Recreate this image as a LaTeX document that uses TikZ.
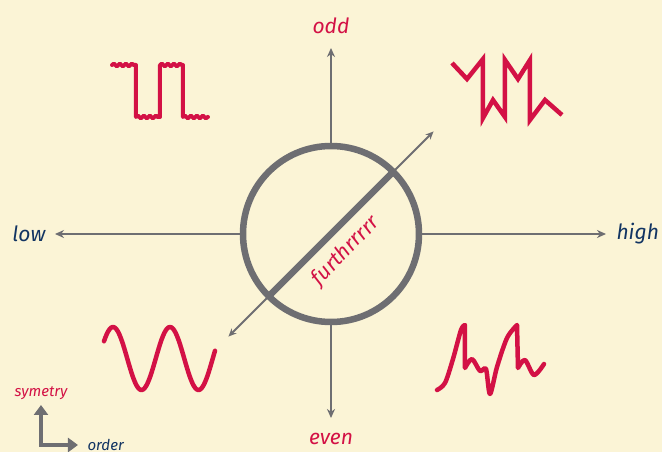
\documentclass[tikz,border=0pt]{standalone}
\usepackage{fontspec}
\setmainfont{Fira Sans}
\usetikzlibrary{positioning, arrows.meta, decorations.pathmorphing}
\definecolor{fgred}{RGB}{211,17,69}
\definecolor{fgblue}{RGB}{18,52,98}
\definecolor{fggray}{RGB}{110,110,114}
\definecolor{fgcream}{RGB}{251,244,214}

\begin{document}
\begin{tikzpicture}[x=1pt, y=1pt, >={Stealth[length=9pt, width=8pt]},
          font=\itshape\fontsize{21}{24}\selectfont,
          ax/.style ={draw=fggray, line width=2.6pt, ->},
          pole/.style={text=fgred},
          side/.style={text=fgblue},
          tiny/.style={font=\itshape\fontsize{15}{18}\selectfont},
          wave/.style={draw=fgred, line width=4.5pt, line cap=round, line join=round},
          ring/.style={circle, draw=fggray, line width=6.5pt, minimum size=176pt,
                       inner sep=0pt, outer sep=0pt}]
        \fill[fgcream] (-331,-218) rectangle (331,234);
        \useasboundingbox (-331,-218) rectangle (331,234);
        \node[ring] (c) at (0,0) {};
        \coordinate[above=98pt of c.north] (up);
        \coordinate[below=96pt of c.south] (down);
        \coordinate[left=188pt of c.west] (lo);
        \coordinate[right=187pt of c.east] (hi);
        \draw[ax] (c.north)--(up); \draw[ax] (c.south)--(down);
        \draw[ax] (c.west)--(lo);  \draw[ax] (c.east)--(hi);
        \node[pole, above=11pt of up] (odd) {odd};
        \node[pole, below=12pt of down] (even) {even};
        \node[side, left=6pt of lo] (low) {low};
        \node[side, right=7pt of hi] (high) {high};
        % diagonal through the ring
        \coordinate (ne) at (45:145); \coordinate (sw) at (225:145);
        \draw[fggray, line width=2pt, <->, >={Stealth[length=8pt, width=7pt]}] (sw)--(ne);
        \draw[fggray, line width=6.5pt] (c.225)--(c.45);
        \node[pole, rotate=46] (fur) at (15,-17) {furthrrrrr};
        % signals
        \draw[wave, line width=4pt, decoration={snake, amplitude=1.3pt, segment length=6pt}]
          (-219,169) decorate{--(-195,169)} --(-195,117) decorate{--(-171,117)}
          --(-171,169) decorate{--(-148,169)} --(-148,117) decorate{--(-123,117)};
        \draw[wave, line cap=butt, line join=miter] (121,171)--(136,155)--(152,175)--(152,116)
          --(162,134)--(174,117)--(174,174)--(187,155)--(199,174)--(199,114)--(214,134)--(231,119);
        \draw[wave] plot[domain=-227:-116, samples=80, smooth]
          (\x, {-124.5+31.5*cos(6.3158*(\x+218))});
        \draw[wave] plot[smooth] coordinates {(106,-156) (114,-149) (122,-125) (130,-96) (134,-91)}
          --plot[smooth] coordinates {(134,-134) (141,-125) (149,-137) (155,-135) (159,-160)
            (166,-133) (176,-104) (186,-91)}
          --plot[smooth] coordinates {(187,-134) (194,-126) (203,-141) (213,-130)};
        % legend
        \coordinate (o) at (-290,-211);
        \coordinate[above=40pt of o] (sym);
        \coordinate[right=37pt of o] (ord);
        \draw[fggray, line width=4.5pt, <->, >={Triangle[length=10pt, width=14pt]}] (sym)|-(ord);
        \node[pole, tiny, above=2pt of sym] (symlbl) {symetry};
        \node[side, tiny, right=6pt of ord] (ordlbl) {order};
      \end{tikzpicture}
\end{document}
